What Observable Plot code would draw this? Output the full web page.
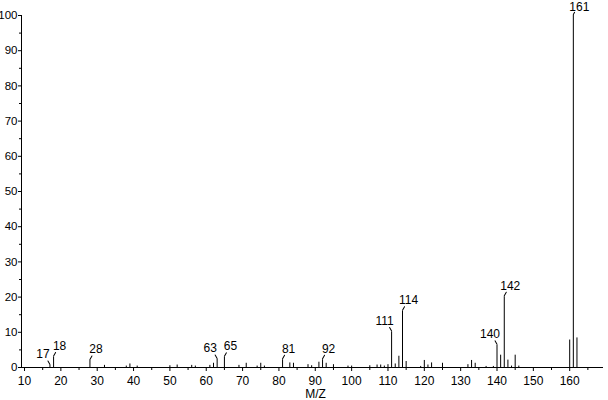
<!DOCTYPE html>
<html><head><meta charset="utf-8">
<script src="https://cdn.jsdelivr.net/npm/d3@7"></script>
<script src="https://cdn.jsdelivr.net/npm/@observablehq/plot@0.6"></script>
<style>html,body{margin:0;padding:0;background:#fff;} svg{display:block}</style>
</head><body><div id="chart"></div>
<script>
// m/z values and relative intensities (%)
const mz = [17, 18, 28, 32, 38, 39, 41, 50, 52, 56, 57, 61, 62, 63, 65, 69, 71, 74, 75, 76,
  81, 83, 84, 88, 89, 91, 92, 93, 95, 99, 100, 105, 107, 108, 109, 110, 111, 112, 113, 114, 115,
  119, 120, 121, 122, 125, 132, 133, 134, 137, 139, 140, 141, 142, 143, 144, 145, 146, 160, 161, 162];
const intensity = [0.6, 3, 2, 0.6, 0.4, 1, 0.4, 0.5, 0.7, 0.6, 0.4, 0.6, 1.2, 2.3, 2.9, 0.6, 1.2, 0.4, 1.2, 0.4,
  2.2, 1.3, 1.2, 0.8, 0.5, 1.5, 2.2, 1.2, 0.8, 0.4, 0.4, 0.5, 0.7, 0.7, 0.4, 0.8, 10.1, 1, 3.2, 16, 1.7,
  0.3, 2, 0.7, 1.3, 1.2, 0.8, 2, 1.2, 0.3, 0.3, 6.3, 3.5, 20.1, 2.1, 0.4, 3.5, 0.4, 7.8, 100, 8.4];
// annotated peaks and which side their label leans to
const labelMz = [17, 18, 28, 63, 65, 81, 92, 111, 114, 140, 142, 161];
const labelSide = ["left", "right", "right", "left", "right", "right", "right", "left", "right", "left", "right", "right"];
// axis ticks
const xTicksMajor = [10, 20, 30, 40, 50, 60, 70, 80, 90, 100, 110, 120, 130, 140, 150, 160];
const xTicksMinor = [15, 25, 35, 45, 55, 65, 75, 85, 95, 105, 115, 125, 135, 145, 155, 165];
const yTicksMajor = [0, 10, 20, 30, 40, 50, 60, 70, 80, 90, 100];
const yTicksMinor = [5, 15, 25, 35, 45, 55, 65, 75, 85, 95];
const xDomain = [9.17, 169.3];
const yDomain = [0, 100];
const xTitle = "M/Z";

const peaks = mz.map((m, i) => ({m, v: intensity[i]}));
const labels = labelMz.map((m, i) => ({m, v: intensity[mz.indexOf(m)], side: labelSide[i], text: String(m)}));
const lefts = labels.filter(d => d.side === "left");
const rights = labels.filter(d => d.side === "right" && d.v < 95);
const topRights = labels.filter(d => d.side === "right" && d.v >= 95);
const leader = {draw(context, l) { context.moveTo(0, 0); context.lineTo(0, -l); }};

const chart = Plot.plot({
  width: 608,
  height: 400,
  marginLeft: 21,
  marginRight: 5,
  marginTop: 15,
  marginBottom: 33,
  style: {fontFamily: "'Liberation Sans', Arial, sans-serif", fontSize: "12px", color: "#000", background: "#fff"},
  x: {domain: xDomain, label: null},
  y: {domain: yDomain, label: null},
  marks: [
    Plot.axisX({ticks: xTicksMinor, tickSize: 3, tickFormat: () => "", label: null}),
    Plot.axisX({ticks: xTicksMajor, tickSize: 4, tickPadding: 5, label: null, fontSize: 12}),
    Plot.axisY({ticks: yTicksMinor, tickSize: 2, tickFormat: () => "", label: null}),
    Plot.axisY({ticks: yTicksMajor, tickSize: 3, tickPadding: 1, label: null, fontSize: 11.5}),
    Plot.ruleY([0], {stroke: "#000"}),
    Plot.ruleX([xDomain[0]], {y1: yDomain[0], y2: yDomain[1], stroke: "#000"}),
    Plot.ruleX(peaks, {x: "m", y1: 0, y2: "v", stroke: "#000", strokeWidth: 1}),
    Plot.vector(rights, {x: "m", y: "v", length: 4, rotate: 30, anchor: "start", dy: -1, shape: leader, stroke: "#000", strokeWidth: 1}),
    Plot.vector(topRights, {x: "m", y: "v", length: 2.5, rotate: 30, anchor: "start", dy: -1, shape: leader, stroke: "#000", strokeWidth: 1}),
    Plot.vector(lefts, {x: "m", y: "v", length: 4, rotate: -30, anchor: "start", dy: -1, shape: leader, stroke: "#000", strokeWidth: 1}),
    Plot.text(rights, {x: "m", y: "v", text: "text", dx: 6, dy: -7, lineAnchor: "bottom", textAnchor: "middle", fill: "#000", fontSize: 12}),
    Plot.text(topRights, {x: "m", y: "v", text: "text", dx: 6, dy: -4.5, lineAnchor: "bottom", textAnchor: "middle", fill: "#000", fontSize: 12}),
    Plot.text(lefts, {x: "m", y: "v", text: "text", dx: -7, dy: -7, lineAnchor: "bottom", textAnchor: "middle", fill: "#000", fontSize: 12}),
    Plot.text([xTitle], {frameAnchor: "bottom", text: d => d, dx: 3, dy: 22, lineAnchor: "top", fill: "#000", fontSize: 12})
  ]
});
document.getElementById("chart").appendChild(chart);
</script>
</body></html>
